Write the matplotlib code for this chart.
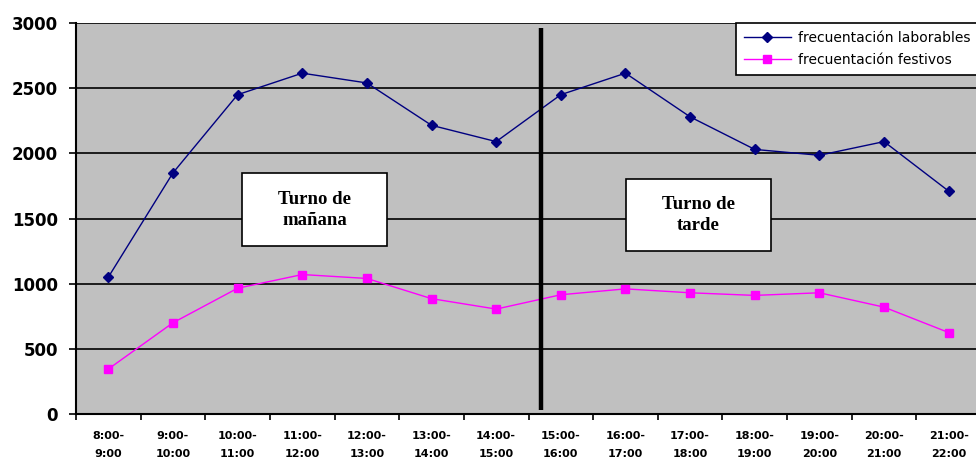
import matplotlib.pyplot as plt
from matplotlib.patches import Rectangle

franjas = ["8:00-\n9:00", "9:00-\n10:00", "10:00-\n11:00", "11:00-\n12:00",
           "12:00-\n13:00", "13:00-\n14:00", "14:00-\n15:00", "15:00-\n16:00",
           "16:00-\n17:00", "17:00-\n18:00", "18:00-\n19:00", "19:00-\n20:00",
           "20:00-\n21:00", "21:00-\n22:00"]
laborables = [1050, 1850, 2450, 2615, 2540, 2215, 2090, 2450, 2615, 2280,
              2030, 1985, 2090, 1710]
festivos = [345, 700, 965, 1070, 1040, 885, 805, 915, 960, 930, 910, 930,
            820, 625]

W, H = 976, 463
fig = plt.figure(figsize=(W / 100, H / 100), dpi=100)
# plot area runs a little past the right edge, as in the original
ax = fig.add_axes([76 / W, 49 / H, 905 / W, 391 / H])
ax.set_facecolor("#c0c0c0")

x = list(range(len(franjas)))
ax.plot(x, laborables, color="#000080", lw=1, marker="D", ms=5,
        label="frecuentación laborables")
ax.plot(x, festivos, color="#ff00ff", lw=1, marker="s", ms=6,
        label="frecuentación festivos")

ax.set_xlim(-0.5, len(franjas) - 0.5)
ax.set_ylim(0, 3000)
ax.set_yticks(range(0, 3001, 500))
ax.yaxis.grid(True, color="black", lw=1.2)
ax.set_axisbelow(True)

# tick marks between categories, labels centred on them
ax.set_xticks([i - 0.5 for i in x])
ax.set_xticklabels([])
ax.set_xticks(x, minor=True)
ax.set_xticklabels(franjas, minor=True, fontsize=8, fontweight="bold",
                   linespacing=2.1)
ax.tick_params(axis="x", which="minor", length=0, pad=12)
ax.tick_params(axis="x", which="major", length=4, width=1.2)
ax.tick_params(axis="y", length=5, width=1.2, labelsize=12, pad=8)
for lab in ax.get_yticklabels():
    lab.set_fontweight("bold")

for s in ["top", "right"]:
    ax.spines[s].set_visible(False)
for s in ["left", "bottom"]:
    ax.spines[s].set_linewidth(1.5)

# separation between the two shifts
ax.vlines(6.69, 30, 2960, color="black", lw=3.2, zorder=3)

for x0, x1, y0, y1, txt in [(2.07, 4.31, 1288, 1848, "Turno de\nmañana"),
                            (8.01, 10.25, 1250, 1802, "Turno de\ntarde")]:
    ax.add_patch(Rectangle((x0, y0), x1 - x0, y1 - y0, facecolor="white",
                           edgecolor="black", lw=1.2, zorder=4))
    ax.text((x0 + x1) / 2, (y0 + y1) / 2, txt, ha="center", va="center",
            fontsize=13.5, fontweight="bold", family="Liberation Serif",
            linespacing=1.3, zorder=5)

leg = ax.legend(loc="upper left", bbox_to_anchor=(736 / W, 1 - 23 / H),
                bbox_transform=fig.transFigure, fancybox=False,
                edgecolor="black", framealpha=1, fontsize=10,
                handlelength=3.4, handletextpad=0.5, borderpad=0.55,
                labelspacing=0.6, borderaxespad=0)
leg.get_frame().set_linewidth(1.2)

fig.savefig("out.png", dpi=100)
